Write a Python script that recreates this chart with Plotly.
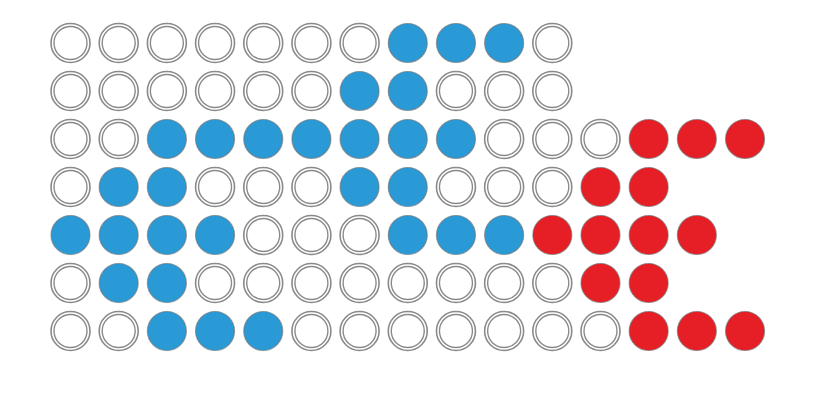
import plotly.graph_objects as go

# Grid rows (top to bottom): E = empty ring, B = blue dot, R = red dot
row_patterns = [
    "EEEEEEEBBBE",
    "EEEEEEBBEEE",
    "EEBBBBBBBEEERRR",
    "EBBEEEBBEEERR",
    "BBBBEEEBBBRRRR",
    "EBBEEEEEEEERR",
    "EEBBBEEEEEEERRR",
]
row_numbers = [1, 2, 3, 4, 5, 6, 7]
fill_colors = {"B": "#2a9ad6", "R": "#e61e26"}

xs = {"E": [], "B": [], "R": []}
ys = {"E": [], "B": [], "R": []}
for r, pattern in zip(row_numbers, row_patterns):
    for c, ch in enumerate(pattern, start=1):
        xs[ch].append(c)
        ys[ch].append(r)

fig = go.Figure()
# empty rings: outer ring
fig.add_trace(go.Scatter(
    x=xs["E"], y=ys["E"], mode="markers", hoverinfo="skip",
    marker=dict(size=39, color="white", line=dict(color="#8a8a8a", width=1.6)),
))
# inner ring
fig.add_trace(go.Scatter(
    x=xs["E"], y=ys["E"], mode="markers", hoverinfo="skip",
    marker=dict(size=33, color="white", line=dict(color="#8a8a8a", width=1.4)),
))
for key in ["B", "R"]:
    fig.add_trace(go.Scatter(
        x=xs[key], y=ys[key], mode="markers", hoverinfo="skip",
        marker=dict(size=39, color=fill_colors[key],
                    line=dict(color="rgba(110,110,110,0.6)", width=1.2)),
    ))

fig.update_layout(
    width=820, height=406,
    margin=dict(l=0, r=0, t=0, b=0),
    paper_bgcolor="white", plot_bgcolor="white",
    showlegend=False,
    xaxis=dict(range=[-0.4633, 16.556], visible=False, fixedrange=True),
    yaxis=dict(range=[8.562, 0.104], visible=False, fixedrange=True),
)
fig.write_html("out.html")
